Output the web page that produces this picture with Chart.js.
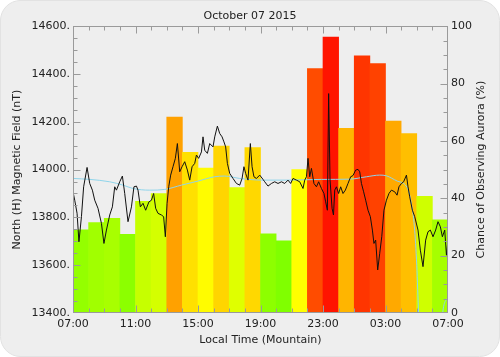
<!DOCTYPE html>
<html>
<head>
<meta charset="utf-8">
<script src="https://cdn.jsdelivr.net/npm/chart.js@4.4.0/dist/chart.umd.min.js"></script>
<style>
  html, body { margin: 0; padding: 0; background: #ffffff; }
  #wrap { width: 500px; height: 357px; }
</style>
</head>
<body>
<div id="wrap"><canvas id="c" width="500" height="357"></canvas></div>
<script>
// ---- Data ----
const titleText = "October 07 2015";
const xTickLabels = ["07:00", "11:00", "15:00", "19:00", "23:00", "03:00", "07:00"];

// Hourly chance of observing aurora (%), one bar per hour starting 07:00
const auroraChance = [29, 31.5, 33, 27.4, 38.9, 41.6, 68.3, 56, 50.5, 58.2, 43.7, 57.7,
                      27.6, 25.2, 50, 85.2, 96.2, 64.4, 89.7, 87, 66.9, 62.6, 40.7, 32.5];

// North (H) magnetic field: hours after 07:00 and nT
const fieldHours = [0.00,0.11,0.26,0.38,0.54,0.68,0.90,1.07,1.24,1.39,1.60,1.82,1.98,2.14,2.35,2.52,2.67,2.78,2.99,3.16,
  3.31,3.52,3.74,3.90,4.06,4.16,4.31,4.48,4.65,4.86,5.02,5.16,5.29,5.44,5.66,5.80,5.91,6.02,6.13,6.25,
  6.40,6.55,6.68,6.83,6.98,7.15,7.32,7.47,7.62,7.79,7.90,8.04,8.22,8.32,8.43,8.60,8.75,8.96,9.07,9.24,
  9.39,9.54,9.66,9.77,9.88,10.03,10.24,10.46,10.67,10.82,10.94,11.05,11.20,11.35,11.46,11.58,11.74,11.95,12.16,12.27,
  12.48,12.70,12.91,13.12,13.34,13.55,13.76,13.93,14.08,14.30,14.51,14.72,14.83,14.94,15.04,15.15,15.26,15.42,15.58,15.72,
  15.90,16.06,16.17,16.28,16.36,16.45,16.58,16.67,16.75,16.86,17.00,17.13,17.28,17.43,17.60,17.77,17.92,18.09,18.24,18.35,
  18.46,18.60,18.73,18.88,19.03,19.16,19.26,19.37,19.50,19.63,19.76,19.90,20.06,20.22,20.38,20.59,20.74,20.86,21.02,21.16,
  21.34,21.44,21.55,21.72,21.87,22.08,22.23,22.40,22.57,22.72,22.87,23.04,23.21,23.36,23.51,23.64,23.79,23.90,24.00];
const fieldValues = [13907,13872,13817,13698,13803,13928,14009,13942,13914,13872,13838,13775,13691,13747,13810,13844,13928,13914,13949,13973,
  13900,13782,13844,13928,13931,13914,13844,13859,13830,13865,13872,13900,13838,13817,13810,13803,13719,13859,13930,13977,
  14012,14047,14109,13991,14012,14033,13998,13956,14012,14026,14061,14047,14074,14137,14081,14068,14109,14095,14137,14182,
  14151,14137,14116,14095,14026,13984,13963,13942,13935,13963,14012,13984,13956,14109,14012,13970,13963,13977,13959,13949,
  13931,13942,13949,13942,13949,13942,13956,13942,13963,13956,13949,13921,13956,13970,14047,13970,14005,13942,13928,13949,
  13921,13900,13865,13830,14318,13956,13838,13810,13914,13928,13900,13928,13900,13914,13942,13970,13975,13998,14001,13991,
  13942,13907,13872,13830,13803,13747,13691,13705,13580,13650,13719,13830,13872,13900,13914,13907,13893,13928,13942,13949,
  13977,13928,13886,13830,13803,13747,13663,13594,13705,13740,13747,13719,13747,13782,13761,13719,13747,13642,13705];

// Smooth baseline curve (hours after 07:00, nT)
const baseHours  = [0, 1.07, 2.35, 3.20, 3.84, 4.91, 5.87, 6.94, 8.00, 9.06, 9.71, 10.67, 12.16, 13.76, 15.90, 17.71, 18.78, 19.63, 20.06, 20.75, 21.2, 21.45, 21.65, 21.85, 22.0, 22.12, 22.4, 23.0, 23.4, 23.66, 24.0];
const baseValues = [13963, 13959, 13949, 13935, 13921, 13914, 13917, 13935, 13952, 13970, 13973, 13963, 13956, 13956, 13959, 13960, 13970, 13977, 13974, 13952, 13940, 13915, 13860, 13760, 13600, 13400, 13150, 13000, 13150, 13400, 13468];

// ---- Styling helpers ----
const FONT = "'DejaVu Sans', sans-serif";
const TEXT = '#222222';
function barColor(v) {
  let h = 60 - (v - 50) * 1.2;
  h = Math.max(0, Math.min(95, h));
  return 'hsl(' + h.toFixed(1) + ',100%,50%)';
}

const panelPlugin = {
  id: 'panel',
  beforeDraw(chart) {
    const ctx = chart.ctx;
    ctx.save();
    const r = 20, w = chart.width, h = chart.height;
    ctx.beginPath();
    ctx.moveTo(r, 0.5);
    ctx.lineTo(w - r, 0.5);
    ctx.arcTo(w - 0.5, 0.5, w - 0.5, r, r);
    ctx.lineTo(w - 0.5, h - r);
    ctx.arcTo(w - 0.5, h - 0.5, w - r, h - 0.5, r);
    ctx.lineTo(r, h - 0.5);
    ctx.arcTo(0.5, h - 0.5, 0.5, h - r, r);
    ctx.lineTo(0.5, r);
    ctx.arcTo(0.5, 0.5, r, 0.5, r);
    ctx.closePath();
    ctx.fillStyle = '#eeeeee';
    ctx.fill();
    ctx.strokeStyle = '#e2e2e2';
    ctx.lineWidth = 1;
    ctx.stroke();
    ctx.restore();
  },
  afterDraw(chart) {
    const {ctx, chartArea: a, scales} = chart;
    ctx.save();
    ctx.strokeStyle = '#9a9a9a';
    ctx.lineWidth = 1;
    const L = Math.round(a.left) + 0.5, R = Math.round(a.right) - 0.5;
    const T = Math.round(a.top) + 0.5, B = Math.round(a.bottom) - 0.5;
    ctx.strokeRect(L, T, R - L, B - T);
    ctx.beginPath();
    // x ticks hourly
    for (let hr = 1; hr < 24; hr++) {
      const px = Math.round(scales.x.getPixelForValue(hr)) + 0.5;
      const len = hr % 4 === 0 ? 7 : 4;
      ctx.moveTo(px, B); ctx.lineTo(px, B - len);
      ctx.moveTo(px, T); ctx.lineTo(px, T + len);
    }
    // left ticks every 50 nT
    for (let v = 13450; v < 14600; v += 50) {
      const py = Math.round(scales.y.getPixelForValue(v)) + 0.5;
      const len = v % 200 === 0 ? 7 : 4;
      ctx.moveTo(L, py); ctx.lineTo(L + len, py);
    }
    // right ticks every 5 %
    for (let v = 5; v < 100; v += 5) {
      const py = Math.round(scales.y2.getPixelForValue(v)) + 0.5;
      const len = v % 20 === 0 ? 7 : 4;
      ctx.moveTo(R, py); ctx.lineTo(R - len, py);
    }
    ctx.stroke();
    // right axis title (reads bottom to top)
    ctx.fillStyle = TEXT;
    ctx.font = '11px ' + FONT;
    ctx.textAlign = 'center';
    ctx.textBaseline = 'middle';
    ctx.translate(481, (a.top + a.bottom) / 2);
    ctx.rotate(-Math.PI / 2);
    ctx.fillText('Chance of Observing Aurora (%)', 0, 0);
    ctx.restore();
  }
};

const chart = new Chart(document.getElementById('c'), {
  type: 'line',
  data: {
    datasets: [
      {
        type: 'line',
        data: fieldHours.map((h, i) => ({x: h, y: fieldValues[i]})),
        xAxisID: 'x', yAxisID: 'y',
        borderColor: '#111111', borderWidth: 1, pointRadius: 0, tension: 0,
        order: 0
      },
      {
        type: 'line',
        data: baseHours.map((h, i) => ({x: h, y: baseValues[i]})),
        xAxisID: 'x', yAxisID: 'y',
        borderColor: '#8fd4ea', borderWidth: 1, pointRadius: 0,
        cubicInterpolationMode: 'monotone',
        order: 1
      },
      {
        type: 'bar',
        data: auroraChance.map((v, i) => ({x: i + 0.5, y: v})),
        xAxisID: 'x', yAxisID: 'y2',
        backgroundColor: auroraChance.map(barColor),
        borderWidth: 0,
        barPercentage: 1.0, categoryPercentage: 1.0,
        order: 2
      }
    ]
  },
  options: {
    responsive: false,
    animation: false,
    devicePixelRatio: 1,
    layout: { padding: 0 },
    plugins: {
      legend: { display: false },
      tooltip: { enabled: false },
      title: {
        display: true, text: titleText, color: TEXT,
        font: { family: FONT, size: 11, weight: 'normal' },
        padding: { top: 10, bottom: 3 }
      }
    },
    scales: {
      x: {
        type: 'linear', position: 'bottom', min: 0, max: 24, offset: false,
        grid: { display: false, drawTicks: false }, border: { display: false },
        ticks: {
          stepSize: 4, color: TEXT, padding: 5, maxRotation: 0, autoSkip: false,
          font: { family: FONT, size: 11 },
          callback: (v) => xTickLabels[Math.round(v / 4)]
        },
        title: { display: true, text: 'Local Time (Mountain)', color: TEXT,
                 font: { family: FONT, size: 11 }, padding: { top: 0, bottom: 10 } },
        afterFit: (s) => { s.height = 44; }
      },
      y: {
        type: 'linear', position: 'left', min: 13400, max: 14600,
        grid: { display: false, drawTicks: false }, border: { display: false },
        ticks: { stepSize: 200, color: TEXT, padding: 3, font: { family: FONT, size: 11 },
                 callback: (v) => v + '.' },
        title: { display: true, text: 'North (H) Magnetic Field (nT)', color: TEXT,
                 font: { family: FONT, size: 11 }, padding: { top: 11, bottom: 0 } },
        afterFit: (s) => { s.width = 73; }
      },
      y2: {
        type: 'linear', position: 'right', min: 0, max: 100,
        grid: { display: false, drawTicks: false }, border: { display: false },
        ticks: { stepSize: 20, color: TEXT, padding: 3, font: { family: FONT, size: 11 } },
        title: { display: false },
        afterFit: (s) => { s.width = 52; }
      }
    }
  },
  plugins: [panelPlugin]
});
</script>
</body>
</html>
